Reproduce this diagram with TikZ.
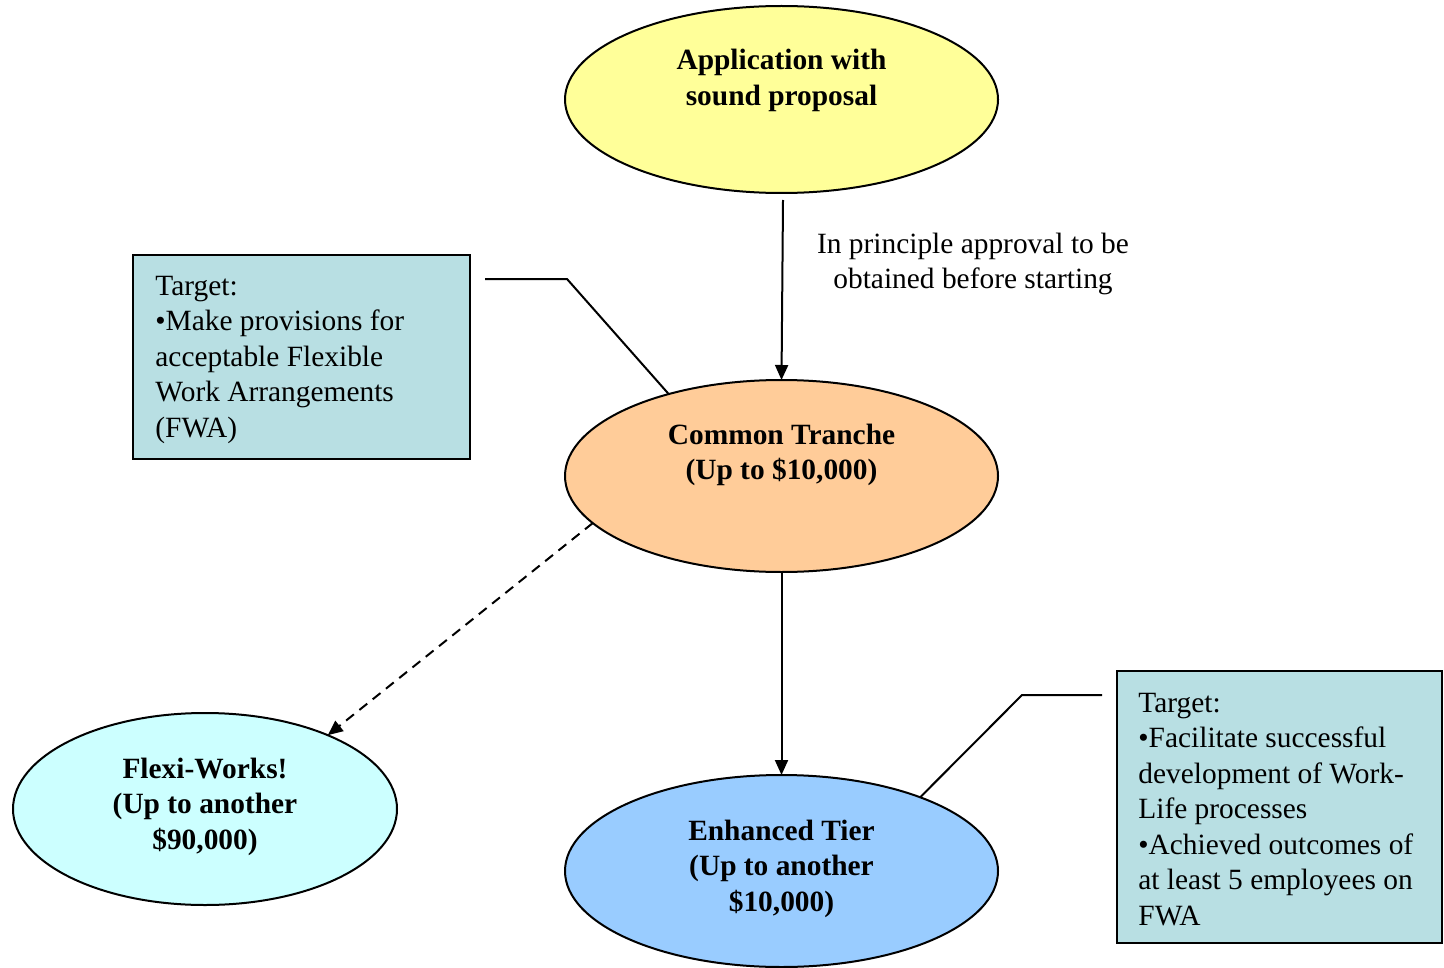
\documentclass[tikz,border=0pt]{standalone}
\usepackage{fontspec}
\setmainfont{Liberation Serif}
\usetikzlibrary{shapes.geometric,arrows.meta}
\definecolor{appyellow}{HTML}{FFFF99}
\definecolor{ctorange}{HTML}{FFCC99}
\definecolor{fwcyan}{HTML}{CCFFFF}
\definecolor{etblue}{HTML}{99CCFF}
\definecolor{boxteal}{HTML}{B8DFE3}
\begin{document}
\begin{tikzpicture}[x=0.5pt,y=-0.5pt,
  oval/.style={ellipse,draw=black,line width=1pt,inner sep=0pt,outer sep=0pt},
  targetbox/.style={rectangle,draw=black,line width=1pt,fill=boxteal,inner sep=0pt,outer sep=0pt},
  boldtxt/.style={font=\fontsize{14.7}{17.75}\selectfont\bfseries,align=center,inner sep=0pt},
  plaintxt/.style={font=\fontsize{14.7}{17.75}\selectfont,align=left,inner sep=0pt},
  labeltxt/.style={font=\fontsize{14.7}{17.75}\selectfont,align=center,inner sep=0pt},
  arr/.style={line width=1pt,-{Triangle[length=7.5pt,width=6.5pt]}},
  callout/.style={line width=1pt}
]
\useasboundingbox (0,0) rectangle (1444,968);

% ellipses
\node[oval,fill=appyellow,minimum width=216.5pt,minimum height=93.5pt] (app) at (781.5,99.5) {};
\node[oval,fill=ctorange,minimum width=216.5pt,minimum height=96pt] (ct) at (781.5,476) {};
\node[oval,fill=fwcyan,minimum width=192pt,minimum height=96pt] (fw) at (205,809) {};
\node[oval,fill=etblue,minimum width=216.5pt,minimum height=96pt] (et) at (781.5,871) {};

% ellipse texts (base anchor = baseline of last line)
\node[boldtxt,anchor=base] (apptext) at (781.5,105.5) {Application with\\sound proposal};
\node[boldtxt,anchor=base] (cttext) at (781.5,479.5) {Common Tranche\\(Up to \$10,000)};
\node[boldtxt,anchor=base] (fwtext) at (205,849) {Flexi-Works!\\(Up to another\\\$90,000)};
\node[boldtxt,anchor=base] (ettext) at (781.5,911) {Enhanced Tier\\(Up to another\\\$10,000)};

% target boxes
\node[targetbox,minimum width=168.5pt,minimum height=102pt] (lbox) at (301.5,357) {};
\node[targetbox,minimum width=162.5pt,minimum height=136pt] (rbox) at (1279.5,807) {};
\node[plaintxt,anchor=base west] (lboxtext) at (155,437)
  {Target:\\•Make provisions for\\acceptable Flexible\\Work Arrangements\\(FWA)};
\node[plaintxt,anchor=base west] (rboxtext) at (1138,925)
  {Target:\\•Facilitate successful\\development of Work-\\Life processes\\•Achieved outcomes of\\at least 5 employees on\\FWA};

% label
\node[labeltxt,anchor=base] (approval) at (973,288.5) {In principle approval to be\\obtained before starting};

% connectors
\coordinate (appout) at (783,200);
\draw[arr] (appout) -- (ct.north);
\draw[arr] (ct.south) -- (et.north);
\draw[arr,dashed,dash pattern=on 5pt off 3.5pt] (ct.194.1) -- (fw.31.9);

\coordinate (lcallstart) at (485,279);
\coordinate (lcallbend) at (567,279);
\draw[callout] (lcallstart) -- (lcallbend) -- (ct.144);
\coordinate (rcallstart) at (1102,695);
\coordinate (rcallbend) at (1022,695);
\draw[callout] (rcallstart) -- (rcallbend) -- (et.28.1);
\end{tikzpicture}
\end{document}
